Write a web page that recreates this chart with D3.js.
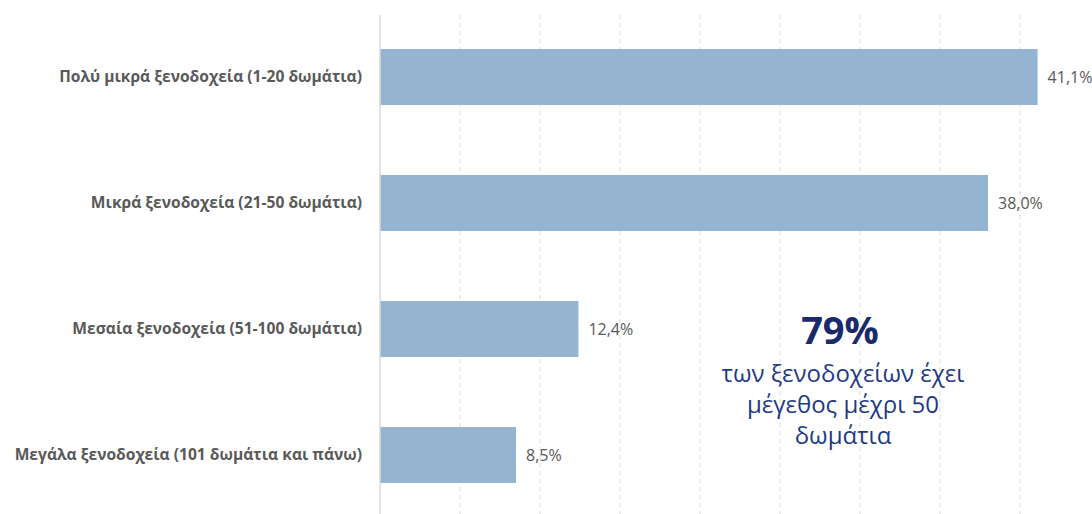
<!DOCTYPE html>
<html><head><meta charset="utf-8">
<script src="https://cdn.jsdelivr.net/npm/d3@7"></script>
<style>body{margin:0;background:#fff;} svg{display:block;}</style>
</head><body>
<svg id="c" width="1092" height="514"></svg>
<script>
const categories = [
  "Πολύ μικρά ξενοδοχεία (1-20 δωμάτια)",
  "Μικρά ξενοδοχεία (21-50 δωμάτια)",
  "Μεσαία ξενοδοχεία (51-100 δωμάτια)",
  "Μεγάλα ξενοδοχεία (101 δωμάτια και πάνω)"
];
const values = [41.1, 38.0, 12.4, 8.5];
const valueLabels = ["41,1%", "38,0%", "12,4%", "8,5%"];
const gridTicks = [5, 10, 15, 20, 25, 30, 35, 40];
const noteBig = "79%";
const noteLines = ["των ξενοδοχείων έχει", "μέγεθος μέχρι 50", "δωμάτια"];

const svg = d3.select("#c");
const x = d3.scaleLinear().domain([0, 45]).range([380, 1100]);
const y = d3.scaleBand().domain(categories).range([14, 518]).paddingInner(0.556).paddingOuter(0.278);

// gridlines
svg.append("g").selectAll("line").data(gridTicks).join("line")
  .attr("x1", d => x(d)).attr("x2", d => x(d))
  .attr("y1", 15).attr("y2", 514)
  .attr("stroke", "#d9d9d9").attr("stroke-width", 1)
  .attr("stroke-dasharray", "4,4");

// bars
svg.append("g").selectAll("rect").data(values).join("rect")
  .attr("x", x(0)).attr("y", (d, i) => y(categories[i]))
  .attr("width", d => x(d) - x(0)).attr("height", y.bandwidth())
  .attr("fill", "#95b4d1");

// axis line
svg.append("line").attr("x1", x(0)).attr("x2", x(0)).attr("y1", 15).attr("y2", 514)
  .attr("stroke", "#d9d9d9").attr("stroke-width", 1.5);

// category labels
svg.append("g").selectAll("text").data(categories).join("text")
  .attr("x", 362).attr("y", d => y(d) + y.bandwidth() / 2)
  .attr("dy", "0.35em").attr("text-anchor", "end")
  .attr("font-family", "Open Sans, sans-serif").attr("font-weight", "bold")
  .attr("font-size", 15.6).attr("fill", "#595959")
  .text(d => d);

// value labels
svg.append("g").selectAll("text").data(values).join("text")
  .attr("x", d => x(d) + 10).attr("y", (d, i) => y(categories[i]) + y.bandwidth() / 2)
  .attr("dy", "0.35em")
  .attr("font-family", "Open Sans, sans-serif")
  .attr("font-size", 16).attr("fill", "#595959")
  .text((d, i) => valueLabels[i]);

// annotation
svg.append("text").attr("x", 840).attr("y", 344).attr("text-anchor", "middle")
  .attr("font-family", "Open Sans, sans-serif").attr("font-weight", "bold")
  .attr("font-size", 38).attr("fill", "#1a2a6b").text(noteBig);
svg.append("g").selectAll("text").data(noteLines).join("text")
  .attr("x", 843).attr("y", (d, i) => 382 + i * 31).attr("text-anchor", "middle")
  .attr("font-family", "Open Sans, sans-serif")
  .attr("font-size", 24).attr("fill", "#1f3a86").text(d => d);
</script>
</body></html>
